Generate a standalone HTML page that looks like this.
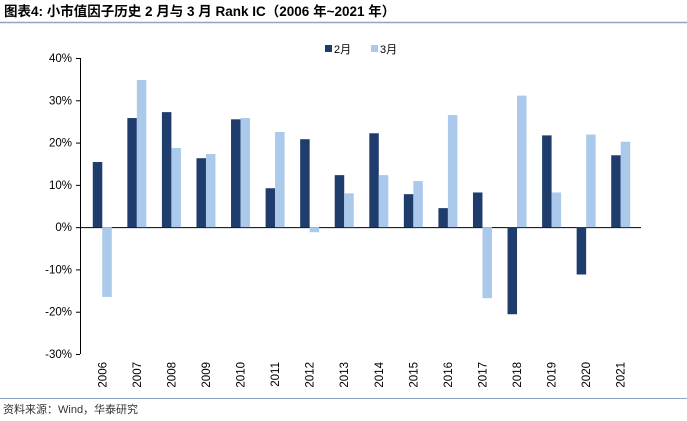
<!DOCTYPE html>
<html><head><meta charset="utf-8"><style>
body{margin:0;background:#fff;width:687px;height:421px;overflow:hidden;font-family:"Liberation Sans","Noto Sans CJK SC",sans-serif}
</style></head><body>
<svg width="687" height="421" style="position:absolute;left:0;top:0">
<text x="4" y="16" font-size="13.5" font-weight="bold" fill="#000">图表4:  小市值因子历史 2 月与 3 月 Rank IC（2006 年~2021 年）</text>
<line x1="0" y1="22.5" x2="687" y2="22.5" stroke="#8fa6c4" stroke-width="1.5"/>
<g id="plot"></g>
<g>
<rect x="325" y="45" width="7" height="7" fill="#1f3d6c"/>
<text x="334" y="53" font-size="11">2月</text>
<rect x="371" y="45" width="7" height="7" fill="#abc9ea"/>
<text x="380" y="53" font-size="11">3月</text>
</g>
<line x1="0" y1="398.5" x2="687" y2="398.5" stroke="#8fa6c4" stroke-width="1"/>
<text x="3" y="413" font-size="11" fill="#333">资料来源：Wind，华泰研究</text>
</svg>
<script>
const years=["2006","2007","2008","2009","2010","2011","2012","2013","2014","2015","2016","2017","2018","2019","2020","2021"];
const feb=[15.4,25.8,27.2,16.3,25.5,9.2,20.8,12.3,22.2,7.8,4.5,8.2,-20.6,21.7,-11.2,17.0];
const mar=[-16.5,34.8,18.7,17.3,25.8,22.5,-1.2,8.0,12.3,10.9,26.5,-16.8,31.1,8.2,21.9,20.2];
const yTicks=[40,30,20,10,0,-10,-20,-30];
const NS="http://www.w3.org/2000/svg";
const g=document.getElementById('plot');
const x0=80,x1=641,yTop=58,yBot=354,vMax=40,vMin=-30;
const y=v=>yTop+(vMax-v)/(vMax-vMin)*(yBot-yTop);
const step=(x1-x0-8)/years.length;
const cx=i=>x0+5+step*(i+0.5);
function mk(t,a){const e=document.createElementNS(NS,t);for(const k in a)e.setAttribute(k,a[k]);g.appendChild(e);return e;}
let ax=mk('line',{x1:x0+.5,y1:yTop,x2:x0+.5,y2:yBot,stroke:'#000'});


yTicks.forEach(v=>{
 const t=mk('line',{x1:x0-4,y1:y(v)+.5,x2:x0,y2:y(v)+.5,stroke:'#000'});
 
 
 const l=mk('text',{x:x0-8,y:y(v)+4,'font-size':11.5,'text-anchor':'end'});
 l.textContent=v+'%';
 
 
});
let zl=mk('line',{x1:x0,y1:y(0)+.5,x2:x1,y2:y(0)+.5,stroke:'#000'});


const bw=9.5;
years.forEach((yr,i)=>{
 const c=cx(i);
 const a=feb[i],b=mar[i];
 const r1=mk('rect',{x:c-bw,y:Math.min(y(a),y(0)),width:bw,height:Math.abs(y(a)-y(0)),fill:'#1f3d6c'});
 
 
 const r2=mk('rect',{x:c,y:Math.min(y(b),y(0)),width:bw,height:Math.abs(y(b)-y(0)),fill:'#abc9ea'});
 
 
 const t=mk('text',{x:0,y:0,'font-size':11.5,'text-anchor':'end',transform:`translate(${c+4},${yBot+8}) rotate(-90)`});
 t.textContent=yr;
 
 
});
</script>
</body></html>
